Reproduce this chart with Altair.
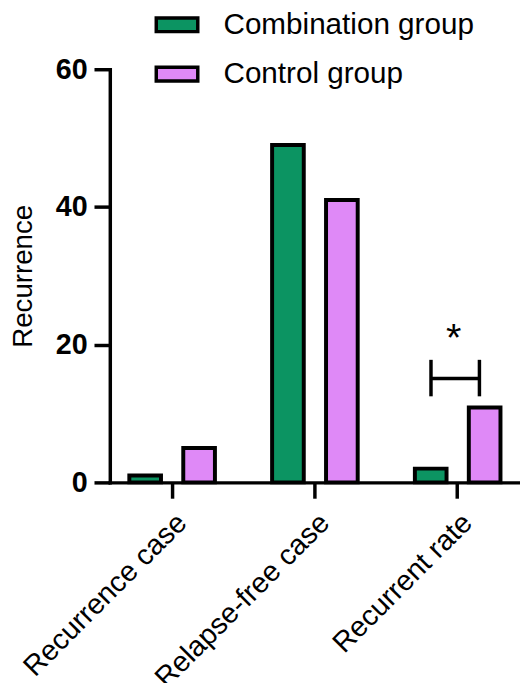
import altair as alt
import pandas as pd

categories = ["Recurrence case", "Relapse-free case", "Recurrent rate"]
groups = ["Combination group", "Control group"]
combination = [1, 49, 2]
control = [5, 41, 10.87]
colors = ["#0C9462", "#DF89F7"]

# significance annotation (Recurrent rate)
sig_category = "Recurrent rate"
bracket_y = 15.1
bracket_low = 12.5
bracket_high = 17.8
star_y = 21.5

rows = []
for c, a, b in zip(categories, combination, control):
    rows.append({"category": c, "group": groups[0], "value": a})
    rows.append({"category": c, "group": groups[1], "value": b})
df = pd.DataFrame(rows)

FONT = "Liberation Sans"

x_enc = alt.X("category:N", sort=categories,
              scale=alt.Scale(domain=categories, paddingInner=0.3, paddingOuter=0.0865),
              axis=alt.Axis(title=None, labelAngle=-45, labelAlign="right", labelBaseline="top",
                            labelFontSize=29, labelFont=FONT, labelColor="black",
                            labelPadding=10, labelLimit=400,
                            domainColor="black", domainWidth=3.5,
                            tickColor="black", tickWidth=3.5, tickSize=16))
y_scale = alt.Scale(domain=[0, 60])
y_enc = alt.Y("value:Q", scale=y_scale,
              axis=alt.Axis(title="Recurrence", values=[0, 20, 40, 60],
                            titleFontSize=28, titleFont=FONT, titleFontWeight="normal",
                            titleColor="black", titlePadding=18,
                            labelFontSize=29, labelFont=FONT, labelFontWeight="bold",
                            labelColor="black", labelPadding=7,
                            domainColor="black", domainWidth=3.5,
                            tickColor="black", tickWidth=3.5, tickSize=16, grid=False))

bars = alt.Chart(df).mark_bar(stroke="black", strokeWidth=4).encode(
    x=x_enc,
    y=y_enc,
    xOffset=alt.XOffset("group:N", sort=groups,
                        scale=alt.Scale(domain=groups, paddingInner=0.413, paddingOuter=0.133)),
    color=alt.Color("group:N", sort=groups,
                    scale=alt.Scale(domain=groups, range=colors),
                    legend=alt.Legend(title=None, orient="none", legendX=45, legendY=-68,
                                      symbolType="M-1,-0.33L1,-0.33L1,0.33L-1,0.33Z",
                                      symbolSize=1764, symbolStrokeColor="black",
                                      symbolStrokeWidth=3.5, symbolOpacity=1,
                                      labelFontSize=30, labelFont=FONT, labelColor="black",
                                      labelLimit=400, labelOffset=24, rowPadding=12)),
)

sig = pd.DataFrame({"category": [sig_category], "y": [bracket_y],
                    "lo": [bracket_low], "hi": [bracket_high], "star": [star_y]})

hline = alt.Chart(sig).mark_tick(color="black", opacity=1, thickness=3.5, size=49, xOffset=-2.5,
                                 orient="horizontal").encode(
    x=alt.X("category:N"), y=alt.Y("y:Q"))
vleft = alt.Chart(sig).mark_rule(color="black", strokeWidth=3.5, xOffset=-27).encode(
    x=alt.X("category:N"), y=alt.Y("lo:Q"), y2="hi:Q")
vright = alt.Chart(sig).mark_rule(color="black", strokeWidth=3.5, xOffset=22).encode(
    x=alt.X("category:N"), y=alt.Y("lo:Q"), y2="hi:Q")
star = alt.Chart(sig).mark_text(text="*", fontSize=40, font=FONT, color="black",
                                baseline="middle", xOffset=-4, yOffset=5).encode(
    x=alt.X("category:N"), y=alt.Y("star:Q"))

chart = alt.layer(bars, hline, vleft, vright, star).properties(
    width=415, height=418,
    autosize=alt.AutoSizeParams(type="none"),
    padding={"left": 103, "top": 58, "right": 0, "bottom": 199},
).configure_view(stroke=None).configure_axis(domainCap="square")

chart.save("out.html", embed_options={"renderer": "svg", "actions": False})
